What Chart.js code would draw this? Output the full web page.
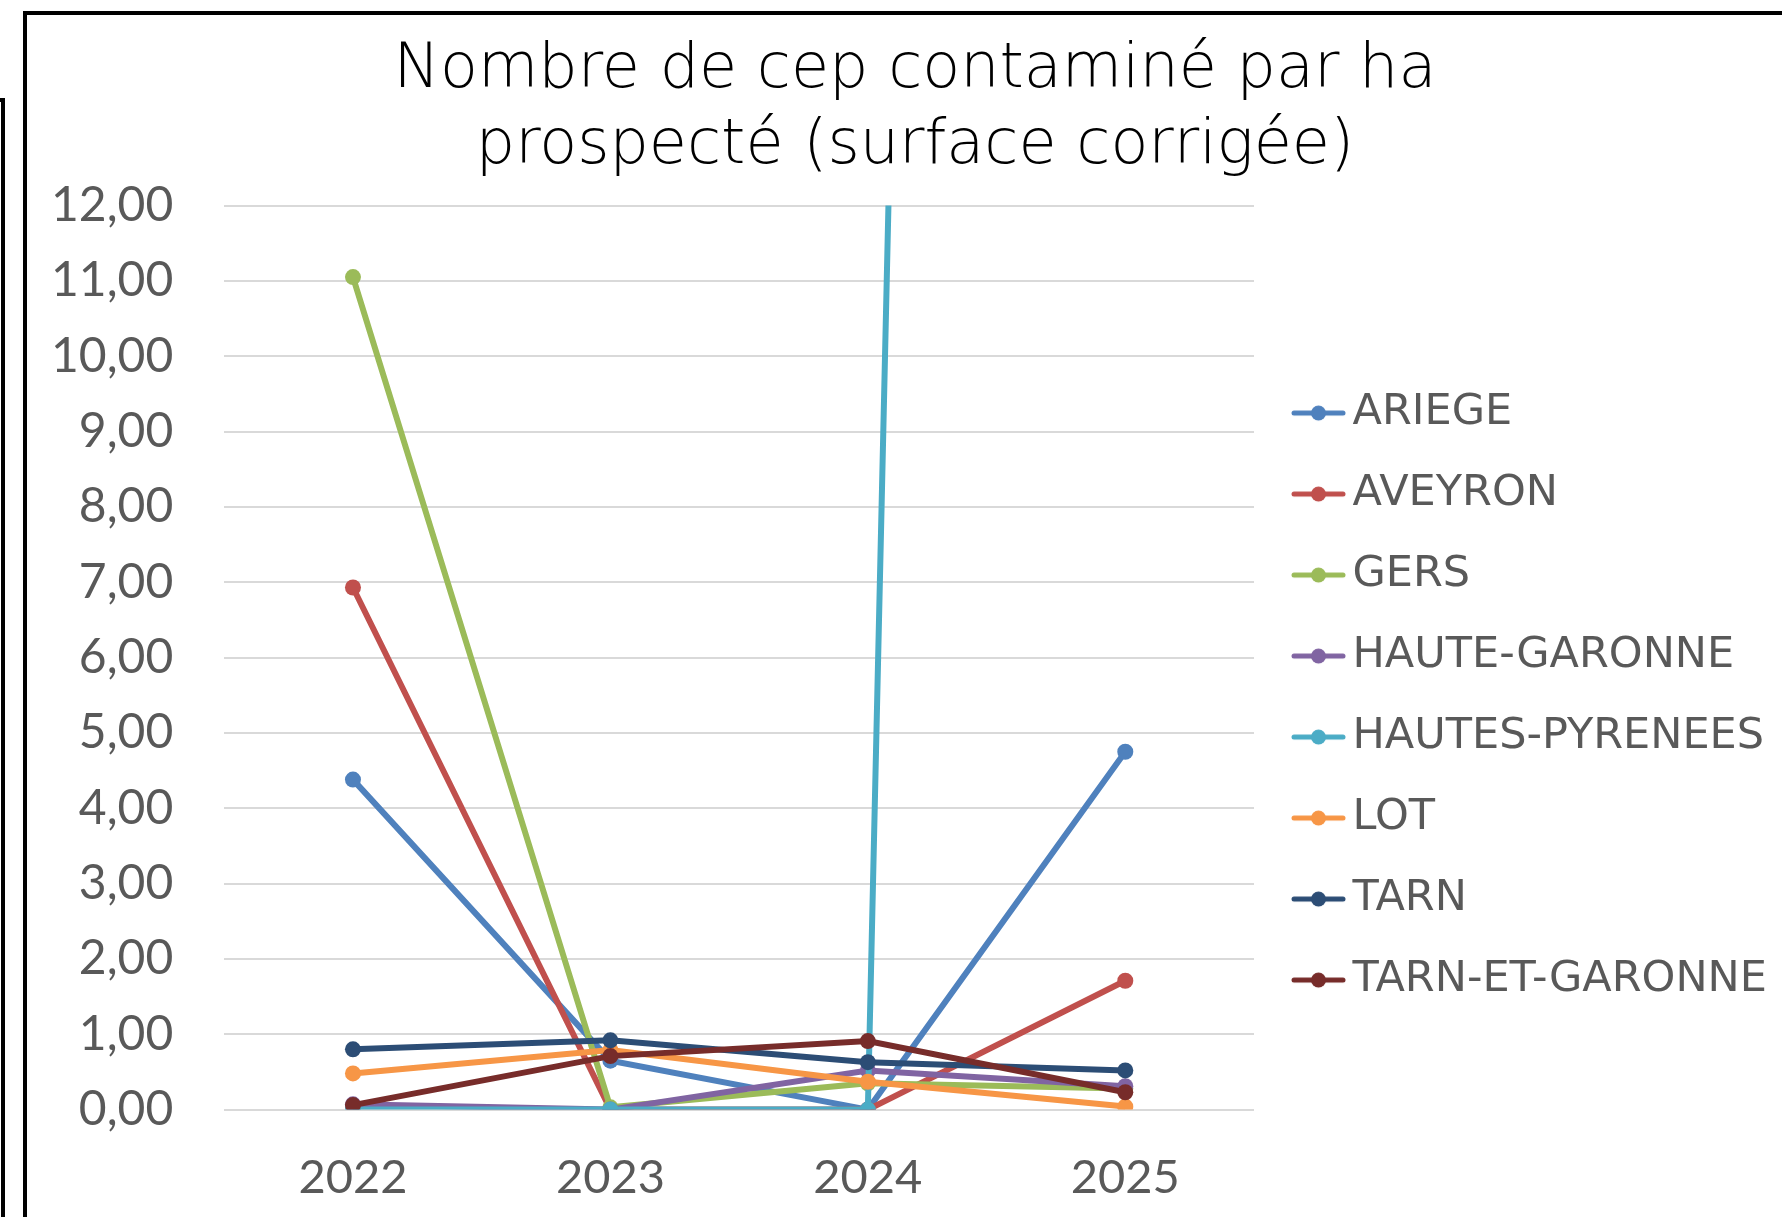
<!DOCTYPE html>
<html>
<head>
<meta charset="utf-8">
<script src="https://cdn.jsdelivr.net/npm/chart.js@4.4.1/dist/chart.umd.min.js"></script>
<style>
  html, body { margin: 0; padding: 0; background: #fff; overflow: hidden; }
  #wrap { position: relative; width: 1782px; height: 1217px; overflow: hidden; }
  #cepGraph { position: absolute; left: 0; top: 0; }
  .frame { position: absolute; border: 4px solid #000; pointer-events: none; }
</style>
</head>
<body>
<div id="wrap">
  <canvas id="cepGraph" width="1830" height="1246"></canvas>
  <div class="frame" style="left:23px;top:11px;width:1800px;height:1300px"></div>
  <div class="frame" style="left:-33px;top:98px;width:30px;height:1300px"></div>
</div>
<script>
const years = ["2022", "2023", "2024", "2025"];

const ariege = [4.38, 0.65, 0.0, 4.75];
const aveyron = [6.93, 0.0, 0.0, 1.71];
const gers = [11.05, 0.03, 0.35, 0.28];
const hauteGaronne = [0.07, 0.0, 0.52, 0.31];
const hautesPyrenees = [0.0, 0.0, 0.0, 150];
const lot = [0.48, 0.79, 0.37, 0.04];
const tarn = [0.8, 0.92, 0.63, 0.52];
const tarnEtGaronne = [0.06, 0.71, 0.91, 0.23];

const departements = ["ARIEGE", "AVEYRON", "GERS", "HAUTE-GARONNE", "HAUTES-PYRENEES", "LOT", "TARN", "TARN-ET-GARONNE"];
const colors = ["#4F81BD", "#C0504D", "#9BBB59", "#8064A2", "#4BACC6", "#F79646", "#2C4D75", "#772C2A"];
const series = [ariege, aveyron, gers, hauteGaronne, hautesPyrenees, lot, tarn, tarnEtGaronne];

const yMin = 0;
const yMax = 12;
const yStep = 1;

const textGrey = "#595959";
const legendWidth = 576;

// small line + dot used as legend marker (left part of the image kept empty
// so the marker sits close to its text)
function makeMark(color) {
  const c = document.createElement("canvas");
  c.width = 69;
  c.height = 18;
  const ctx = c.getContext("2d");
  ctx.strokeStyle = color;
  ctx.lineWidth = 5;
  ctx.lineCap = "round";
  ctx.beginPath();
  ctx.moveTo(17, 9);
  ctx.lineTo(66, 9);
  ctx.stroke();
  ctx.fillStyle = color;
  ctx.beginPath();
  ctx.arc(41.5, 9, 7.5, 0, Math.PI * 2);
  ctx.fill();
  return c;
}

const marks = colors.map((c) => makeMark(c));

// the legend is wider than chart.js wants to give it on the right
const legendWidthPlugin = {
  id: "legendWidth",
  beforeLayout(chart) {
    const legend = chart.legend;
    if (legend && !legend.widthFixed) {
      const fit = legend.fit.bind(legend);
      legend.fit = () => {
        fit();
        legend.width = legendWidth;
      };
      legend.widthFixed = true;
    }
  },
};

const datasets = series.map((values, i) => ({
  label: departements[i],
  data: values,
  borderColor: colors[i],
  backgroundColor: colors[i],
  borderWidth: 6,
  pointRadius: 8,
  pointBorderWidth: 0,
  tension: 0,
  order: series.length - 1 - i,
}));

const cepGraph = document.getElementById("cepGraph");
const graph = new Chart(cepGraph, {
  type: "line",
  data: {
    labels: years,
    datasets: datasets,
  },
  plugins: [legendWidthPlugin],
  options: {
    responsive: false,
    animation: false,
    events: [],
    layout: {
      padding: { left: 0, right: 0, top: 0, bottom: 0 },
    },
    plugins: {
      tooltip: { enabled: false },
      title: {
        display: true,
        text: ["Nombre de cep contaminé par ha", "prospecté (surface corrigée)"],
        color: "#000",
        font: { family: "'DejaVu Sans'", size: 62, weight: "200", lineHeight: 1.23 },
        padding: { top: 33, bottom: 20 },
      },
      legend: {
        position: "right",
        fullSize: false,
        title: { display: true, text: "", font: { size: 10, lineHeight: 1 }, padding: { top: 68, bottom: 0 } },
        labels: {
          usePointStyle: true,
          pointStyleWidth: 39,
          padding: 38,
          color: textGrey,
          font: { family: "'DejaVu Sans'", size: 43 },
          generateLabels: (chart) =>
            chart.data.datasets.map((ds, i) => ({
              text: ds.label,
              pointStyle: marks[i],
              fillStyle: ds.borderColor,
              strokeStyle: ds.borderColor,
              fontColor: textGrey,
              lineWidth: 0,
              hidden: false,
              datasetIndex: i,
            })),
        },
      },
    },
    scales: {
      x: {
        offset: true,
        grid: { display: false, drawTicks: false },
        border: { display: false },
        ticks: {
          color: textGrey,
          padding: 40,
          font: { family: "Lato", size: 47 },
        },
      },
      y: {
        min: yMin,
        max: yMax,
        border: { display: false },
        grid: { color: "#D9D9D9", lineWidth: 2, drawTicks: false },
        ticks: {
          stepSize: yStep,
          color: textGrey,
          padding: 51,
          font: { family: "Lato", size: 48 },
          callback: (value) => value.toFixed(2).replace(".", ","),
        },
      },
    },
  },
});
</script>
</body>
</html>
